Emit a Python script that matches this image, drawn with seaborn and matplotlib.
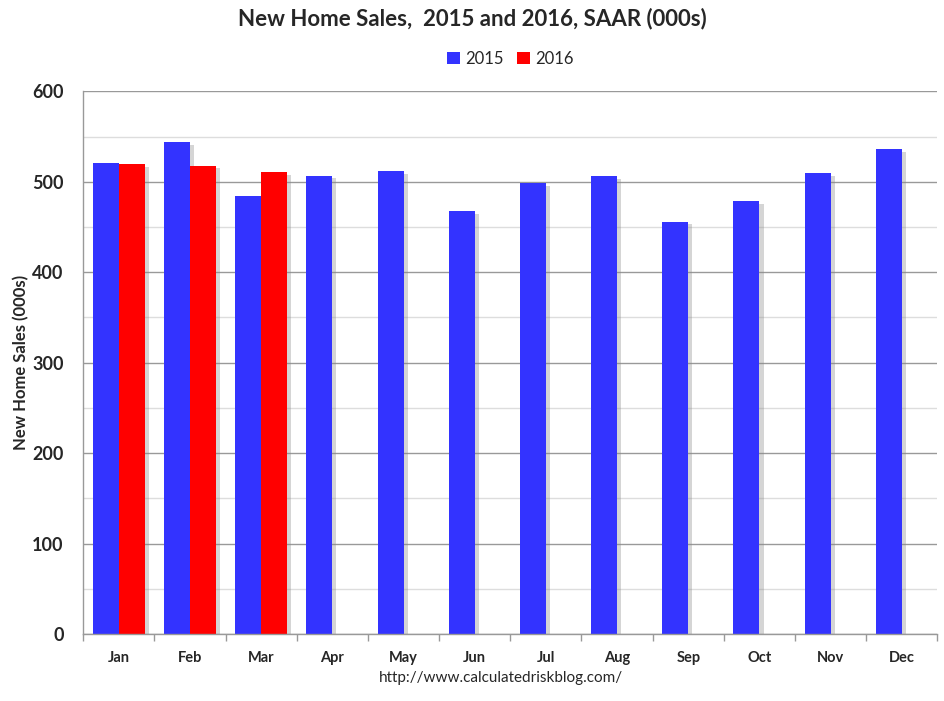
import matplotlib
matplotlib.use("Agg")
import matplotlib.pyplot as plt
import matplotlib.patheffects as pe
import seaborn as sns
import pandas as pd
import numpy as np

months = ["Jan", "Feb", "Mar", "Apr", "May", "Jun", "Jul", "Aug", "Sep", "Oct", "Nov", "Dec"]
sales_2015 = [521, 544, 484, 507, 512, 468, 499, 506, 456, 479, 510, 536]
sales_2016 = [520, 518, 511, np.nan, np.nan, np.nan, np.nan, np.nan, np.nan, np.nan, np.nan, np.nan]
years = ["2015", "2016"]

df = pd.DataFrame({
    "month": months * 2,
    "year": [years[0]] * 12 + [years[1]] * 12,
    "sales": sales_2015 + sales_2016,
})

sns.set_theme(style="white")
plt.rcParams["font.family"] = ["Lato", "DejaVu Sans"]

fig = plt.figure(figsize=(9.45, 7.01), dpi=100)
ax = fig.add_axes([0.088, 0.0956, 0.904, 0.774])

sns.barplot(data=df, x="month", y="sales", hue="year", order=months,
            palette={"2015": "#3333FF", "2016": "#FF0000"},
            width=0.73, gap=0, saturation=1, errorbar=None, linewidth=0, ax=ax)

# soft drop shadow on bars like the original
for bar in ax.patches:
    bar.set_path_effects([pe.SimplePatchShadow(offset=(3, -2), shadow_rgbFace="#888888", alpha=0.35),
                          pe.Normal()])

ax.set_ylim(0, 600)
ax.set_xlim(-0.5, 11.5)
ax.set_yticks(range(0, 601, 100))
ax.set_yticks(range(50, 600, 100), minor=True)
ax.yaxis.grid(True, which="major", color="#999999", linewidth=1)
ax.yaxis.grid(True, which="minor", color="#dddddd", linewidth=1)
ax.set_axisbelow(True)
ax.tick_params(axis="y", which="both", length=0, labelsize=13, pad=14)
for lbl in ax.get_yticklabels():
    lbl.set_fontweight("bold")

ax.set_xticks(np.arange(-0.5, 12, 1), minor=True)
ax.tick_params(axis="x", which="major", length=0, labelsize=10.5, pad=12)
ax.tick_params(axis="x", which="minor", length=5, color="#999999", bottom=True)
for lbl in ax.get_xticklabels():
    lbl.set_fontweight("bold")

for side in ["top", "right"]:
    ax.spines[side].set_visible(False)
for side in ["left", "bottom"]:
    ax.spines[side].set_color("#999999")
    ax.spines[side].set_linewidth(1)

ax.set_xlabel("")
ax.set_ylabel("New Home Sales (000s)", fontsize=12, fontweight="bold", labelpad=2)

leg = ax.legend(loc="center", bbox_to_anchor=(0.5, 1.06), ncol=2, frameon=False,
                fontsize=12, handlelength=0.8, handleheight=0.8, handletextpad=0.3,
                columnspacing=0.8)
for h in leg.get_patches():
    h.set_path_effects([])

fig.text(0.5, 0.974, "New Home Sales,  2015 and 2016, SAAR (000s)", fontsize=16,
         fontweight="bold", ha="center", va="center")
fig.text(0.53, 0.033, "http://www.calculatedriskblog.com/", ha="center", va="center", fontsize=11)

fig.savefig("out.png", dpi=100)
plt.close(fig)
